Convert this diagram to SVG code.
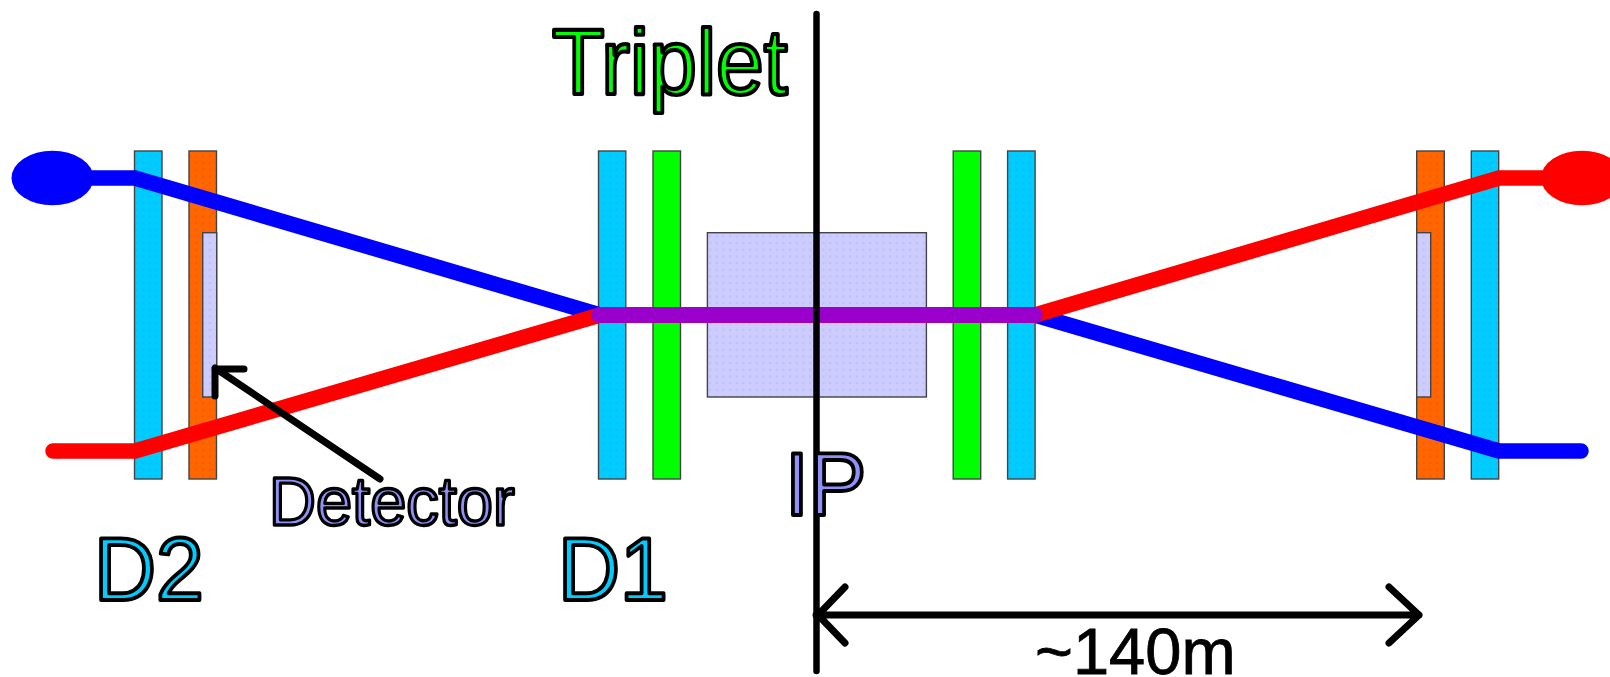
<svg xmlns="http://www.w3.org/2000/svg" width="1610" height="677" viewBox="0 0 1610 677">
<defs>
<pattern id="pat-la" width="6.67" height="6.67" patternUnits="userSpaceOnUse"><rect width="6.67" height="6.67" fill="#ccccff"/><rect x="2" y="2" width="2" height="2" fill="#c4bafc"/></pattern>
<pattern id="pat-cy" width="6.67" height="6.67" patternUnits="userSpaceOnUse"><rect width="6.67" height="6.67" fill="#00ccff"/><rect x="2" y="2" width="2" height="2" fill="#0cbcfc"/></pattern>
<pattern id="pat-or" width="6.67" height="6.67" patternUnits="userSpaceOnUse"><rect width="6.67" height="6.67" fill="#ff6600"/><rect x="2" y="2" width="2" height="2" fill="#f25a0c"/></pattern>
</defs>
<style>
.m{stroke:#444;stroke-width:1.4}
.cy{fill:url(#pat-cy)}.or{fill:url(#pat-or)}.gr{fill:#00ff00}.la{fill:url(#pat-la)}
.b{fill:none;stroke-width:15.5;stroke-linecap:round;stroke-linejoin:miter}
.k{fill:none;stroke:#000;stroke-width:7;stroke-linecap:round;stroke-linejoin:round}
text{font-family:"Liberation Sans",Arial,sans-serif}
.o{font-size:86px;stroke:#000;stroke-width:3.8;stroke-linejoin:round}
</style>
<rect width="1610" height="677" fill="#fff"/>
<g id="D2-left"><rect class="m cy" x="134.5" y="151" width="27.5" height="328"/></g>
<g id="D2-left-orange"><rect class="m or" x="189" y="151" width="27.5" height="328"/><rect class="m la" x="202.7" y="232.7" width="14" height="164.3"/></g>
<g id="D1-left"><rect class="m cy" x="598.5" y="151" width="27.3" height="328"/></g>
<g id="triplet-left"><rect class="m gr" x="653" y="151" width="27.5" height="328"/></g>
<g id="detector-center"><rect class="m la" x="707.4" y="232.7" width="219" height="164.3"/></g>
<g id="triplet-right"><rect class="m gr" x="953.2" y="151" width="27.5" height="328"/></g>
<g id="D1-right"><rect class="m cy" x="1007.6" y="151" width="27.5" height="328"/></g>
<g id="D2-right-orange"><rect class="m or" x="1416.7" y="151" width="27.6" height="328"/><rect class="m la" x="1416.7" y="232.7" width="14" height="164.3"/></g>
<g id="D2-right"><rect class="m cy" x="1471.3" y="151" width="27.4" height="328"/></g>
<g id="bunch-blue"><ellipse cx="52.5" cy="178" rx="41" ry="27.3" fill="#0000ff"/></g>
<g id="bunch-red"><ellipse cx="1582" cy="178" rx="41" ry="27.3" fill="#ff0000"/></g>
<g id="connectors">
<path class="b" stroke="#0000ff" d="M52 178H135L600 315H1035L1499 451H1581"/>
<path class="b" stroke="#ff0000" d="M53 451H135L600 315H1035L1499 178H1582"/>
<path class="b" stroke="#9900cc" d="M599 315H1035"/>
<path class="k" d="M380 479L215 368M244 369H215V396"/>
<path class="k" style="stroke-width:6.5" d="M816.5 14V671"/>
<path class="k" d="M816 615H1419M845 587L818 615L845 643M1389 587L1419 615L1389 643"/>
</g>
<g id="label-triplet"><text class="o" transform="translate(552 94.1) scale(1 1.085)" fill="#00ff00">Triplet</text></g>
<g id="label-detector"><text transform="translate(269 525.4) scale(1 1.047)" font-size="65" fill="#9090f8" stroke="#000" stroke-width="3.2" stroke-linejoin="round">Detector</text></g>
<g id="label-d2"><text class="o" transform="translate(94 600.1) scale(1 1.035)" fill="#00ccff">D2</text></g>
<g id="label-d1"><text class="o" transform="translate(558 600.1) scale(1 1.035)" fill="#00ccff">D1</text></g>
<g id="label-ip"><text class="o" transform="translate(785 515.1) scale(1 1.035)" fill="#9090f8">IP</text></g>
<g id="label-distance"><text x="1035" y="674" font-size="65" fill="#000" stroke="#000" stroke-width="0.8">~140m</text></g>
</svg>
